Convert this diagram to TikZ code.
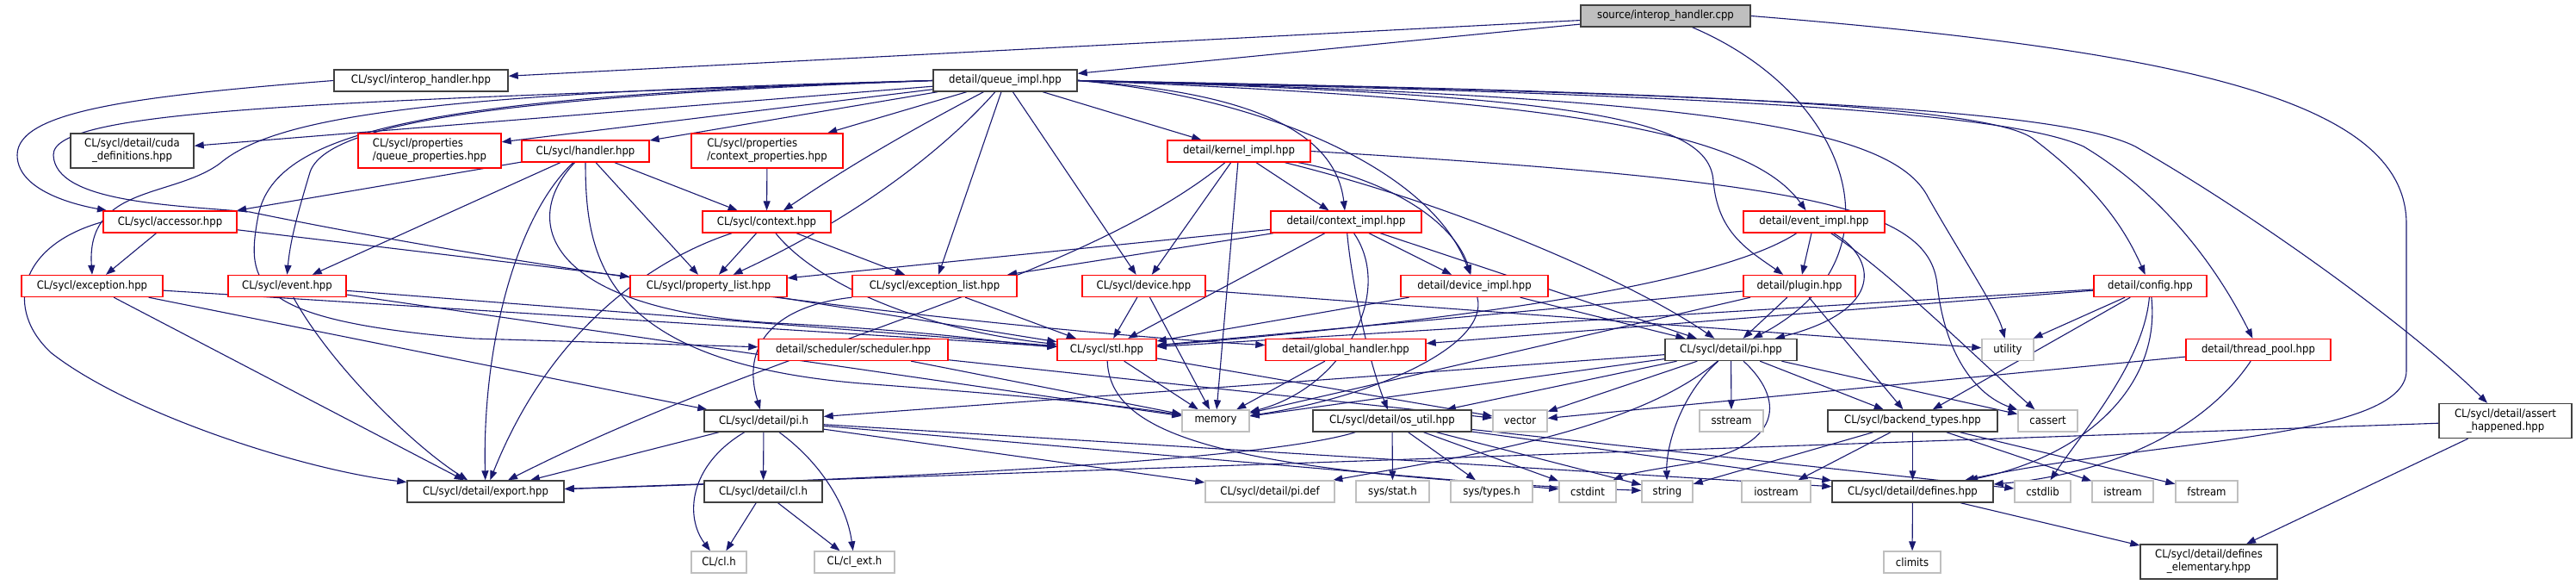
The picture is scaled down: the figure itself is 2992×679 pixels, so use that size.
\documentclass[tikz,border=0pt]{standalone}
\usepackage{fontspec}
\setmainfont{DejaVu Sans Condensed}
\usetikzlibrary{arrows.meta,backgrounds}
\definecolor{edgec}{HTML}{191970}
\definecolor{redb}{HTML}{FF0000}
\definecolor{blkb}{HTML}{404040}
\definecolor{grayb}{HTML}{BFBFBF}
\begin{document}
\begin{tikzpicture}[x=1pt,y=-1pt,
  box/.style={draw, fill=white, line width=1.4pt, minimum height=25pt, inner sep=2pt, font=\fontsize{13}{15}\selectfont},
  rb/.style={box, draw=redb},
  kb/.style={box, draw=blkb},
  gb/.style={box, draw=grayb},
  two/.style={minimum height=40pt, align=center},
  twol/.style={minimum height=40pt, align=left},
  e/.style={draw=edgec, line width=1.1pt, -{Triangle[length=11pt,width=8pt]}},
]
\useasboundingbox (0,0) rectangle (2992,679);
% row 0
\node[kb, fill=grayb!100, minimum width=197pt] (src) at (1934.5,18.5) {source/interop\_handler.cpp};
% row 1
\node[kb, minimum width=202pt] (ih) at (489,93.5) {CL/sycl/interop\_handler.hpp};
\node[kb, minimum width=167pt] (qi) at (1167.5,93.5) {detail/queue\_impl.hpp};
% row 2
\node[kb, two, minimum width=143pt] (cuda) at (153.5,175) {CL/sycl/detail/cuda\\\_definitions.hpp};
\node[rb, twol, minimum width=166pt] (qprop) at (499,175) {CL/sycl/properties\\/queue\_properties.hpp};
\node[rb, minimum width=148pt] (handler) at (680,175.5) {CL/sycl/handler.hpp};
\node[rb, twol, minimum width=176pt] (cprop) at (891,175) {CL/sycl/properties\\/context\_properties.hpp};
\node[rb, minimum width=166pt] (kimpl) at (1439,175.5) {detail/kernel\_impl.hpp};
% row 3
\node[rb, minimum width=155pt] (accessor) at (197.5,257.5) {CL/sycl/accessor.hpp};
\node[rb, minimum width=149pt] (context) at (890.5,257.5) {CL/sycl/context.hpp};
\node[rb, minimum width=175pt] (cimpl) at (1563.5,257.5) {detail/context\_impl.hpp};
\node[rb, minimum width=164pt] (eimpl) at (2107,257.5) {detail/event\_impl.hpp};
% row 4
\node[rb, minimum width=164pt] (exception) at (107,332) {CL/sycl/exception.hpp};
\node[rb, minimum width=137pt] (event) at (333.5,332) {CL/sycl/event.hpp};
\node[rb, minimum width=182pt] (plist) at (823,332) {CL/sycl/property\_list.hpp};
\node[rb, minimum width=191pt] (elist) at (1085.5,332) {CL/sycl/exception\_list.hpp};
\node[rb, minimum width=143pt] (device) at (1328.5,332) {CL/sycl/device.hpp};
\node[rb, minimum width=171pt] (dimpl) at (1712.5,332) {detail/device\_impl.hpp};
\node[rb, minimum width=130pt] (plugin) at (2090,332) {detail/plugin.hpp};
\node[rb, minimum width=131pt] (config) at (2497.5,332) {detail/config.hpp};
% row 5
\node[rb, minimum width=220pt] (sched) at (991,406) {detail/scheduler/scheduler.hpp};
\node[rb, minimum width=115pt] (stl) at (1285.5,406) {CL/sycl/stl.hpp};
\node[rb, minimum width=186pt] (ghandler) at (1563,406) {detail/global\_handler.hpp};
\node[kb, minimum width=153pt] (pihpp) at (2010.5,406) {CL/sycl/detail/pi.hpp};
\node[gb, minimum width=60pt] (utility) at (2332,406) {utility};
\node[rb, minimum width=168pt] (tpool) at (2623,406) {detail/thread\_pool.hpp};
% row 6
\node[kb, minimum width=138pt] (pih) at (887,488.5) {CL/sycl/detail/pi.h};
\node[gb, minimum width=78pt] (memory) at (1412,488.5) {memory};
\node[kb, minimum width=184pt] (osutil) at (1617,488.5) {CL/sycl/detail/os\_util.hpp};
\node[gb, minimum width=63pt] (vector) at (1765.5,488.5) {vector};
\node[gb, minimum width=74pt] (sstream) at (2011,488.5) {sstream};
\node[kb, minimum width=197pt] (btypes) at (2221.5,488.5) {CL/sycl/backend\_types.hpp};
\node[gb, minimum width=69pt] (cassert) at (2378.5,488.5) {cassert};
\node[kb, two, minimum width=154pt] (assert) at (2910,488.5) {CL/sycl/detail/assert\\\_happened.hpp};
% row 7
\node[kb, minimum width=182pt] (export) at (564,570.5) {CL/sycl/detail/export.hpp};
\node[kb, minimum width=137pt] (clh) at (886.5,570.5) {CL/sycl/detail/cl.h};
\node[gb, minimum width=150pt] (pidef) at (1475,570.5) {CL/sycl/detail/pi.def};
\node[gb, minimum width=85pt] (stat) at (1617.5,570.5) {sys/stat.h};
\node[gb, minimum width=95pt] (types) at (1732.5,570.5) {sys/types.h};
\node[gb, minimum width=66pt] (cstdint) at (1844,570.5) {cstdint};
\node[gb, minimum width=59pt] (string) at (1936.5,570.5) {string};
\node[gb, minimum width=80pt] (iostream) at (2063,570.5) {iostream};
\node[kb, minimum width=187pt] (defines) at (2221.5,570.5) {CL/sycl/detail/defines.hpp};
\node[gb, minimum width=65pt] (cstdlib) at (2372.5,570.5) {cstdlib};
\node[gb, minimum width=71pt] (istream) at (2465.5,570.5) {istream};
\node[gb, minimum width=72pt] (fstream) at (2563,570.5) {fstream};
% row 8
\node[gb, minimum width=64pt] (clcl) at (835,652.5) {CL/cl.h};
\node[gb, minimum width=93pt] (clext) at (992.5,652.5) {CL/cl\_ext.h};
\node[gb, minimum width=66pt] (climits) at (2221,652.5) {climits};
\node[kb, two, minimum width=159pt] (delem) at (2565.5,652) {CL/sycl/detail/defines\\\_elementary.hpp};

\begin{scope}[on background layer]
% source
\draw[e] (src) -- (ih);
\draw[e] (src) -- (qi);
\draw[e] (src) .. controls (2150,110) and (2215,300) .. (pihpp);
\draw[e] (src.east) .. controls (2550,60) and (2795,120) .. (2795,260) -- (2795,430) .. controls (2795,510) and (2500,510) .. (defines);
% interop_handler
\draw[e] (ih.west) .. controls (150,112) and (20,130) .. (20,180) .. controls (20,225) and (100,240) .. (accessor);
% queue_impl left
\draw[e] (qi) -- (cuda);
\draw[e] (qi) -- (qprop);
\draw[e] (qi) -- (handler);
\draw[e] (qi) -- (cprop);
\draw[e] (qi) .. controls (1060,150) and (990,190) .. (context);
\draw[e] (qi) .. controls (1100,170) and (1000,250) .. (plist);
\draw[e] (qi) -- (elist);
\draw[e] (qi) -- (device);
\draw[e] (qi) -- (kimpl);
\draw[e] (qi.west) .. controls (500,108) and (320,135) .. (255,190) .. controls (200,230) and (100,215) .. (exception.north);
\draw[e] (qi.west) .. controls (600,112) and (380,140) .. (360,200) .. controls (345,250) and (337,280) .. (event.north);
\draw[e] (qi.west) .. controls (500,112) and (320,150) .. (300,250) .. controls (285,330) and (290,372) .. (550,393) -- (sched);
\draw[e] (qi.west) .. controls (400,118) and (60,125) .. (62,180) .. controls (64,235) and (200,238) .. (290,246) .. controls (700,330) and (1200,385) .. (ghandler);
% queue_impl right
\draw[e] (qi.east) .. controls (1420,105) and (1550,140) .. (cimpl);
\draw[e] (qi.east) .. controls (1450,110) and (1660,190) .. (dimpl);
\draw[e] (qi.east) .. controls (1800,115) and (2030,150) .. (eimpl);
\draw[e] (qi.east) .. controls (1850,110) and (1985,140) .. (1990,210) .. controls (1995,270) and (2030,290) .. (plugin);
\draw[e] (qi.east) .. controls (1900,105) and (2300,120) .. (2360,160) .. controls (2440,220) and (2470,270) .. (config);
\draw[e] (qi.east) .. controls (2000,110) and (2330,130) .. (2420,170) .. controls (2520,230) and (2580,320) .. (tpool);
\draw[e] (qi.east) .. controls (2100,110) and (2400,130) .. (2480,170) .. controls (2620,250) and (2800,380) .. (assert);
\draw[e] (qi.east) .. controls (2000,112) and (2200,150) .. (2240,230) .. controls (2280,300) and (2320,360) .. (utility);
% handler
\draw[e] (handler) -- (accessor);
\draw[e] (handler) -- (event);
\draw[e] (handler) -- (context);
\draw[e] (handler) -- (plist);
\draw[e] (handler) .. controls (600,250) and (560,400) .. (export);
\draw[e] (handler) .. controls (600,260) and (640,360) .. (900,375) .. controls (1100,385) and (1180,400) .. (stl);
\draw[e] (handler) .. controls (680,300) and (700,420) .. (1000,445) .. controls (1200,460) and (1300,470) .. (memory);
% accessor
\draw[e] (accessor) -- (exception);
\draw[e] (accessor) -- (plist);
\draw[e] (accessor.west) .. controls (20,285) and (5,360) .. (60,410) .. controls (150,480) and (350,545) .. (export);
% context props / context
\draw[e] (cprop) -- (context);
\draw[e] (context) -- (plist);
\draw[e] (context) -- (elist);
\draw[e] (context) .. controls (940,320) and (1050,380) .. (stl);
\draw[e] (context) .. controls (760,300) and (640,380) .. (export);
% exception / event
\draw[e] (exception) -- (export);
\draw[e] (exception) -- (pih);
\draw[e] (exception) -- (stl);
\draw[e] (event) .. controls (383,422) and (478,516) .. (export);
\draw[e] (event) -- (stl);
\draw[e] (event) -- (memory);
% property list / exception list / device
\draw[e] (plist) -- (stl);
\draw[e] (elist) -- (stl);
\draw[e] (elist.south west) .. controls (900,355) and (860,400) .. (pih);
\draw[e] (device) -- (stl);
\draw[e] (device) -- (memory);
\draw[e] (device) -- (utility);
% kernel_impl
\draw[e] (kimpl) -- (cimpl);
\draw[e] (kimpl) .. controls (1620,210) and (1690,260) .. (dimpl);
\draw[e] (kimpl) -- (device);
\draw[e] (kimpl) -- (memory);
\draw[e] (kimpl) .. controls (1250,330) and (900,400) .. (export);
\draw[e] (kimpl) .. controls (1700,240) and (1900,330) .. (pihpp);
\draw[e] (kimpl.east) .. controls (2100,210) and (2240,240) .. (2250,330) .. controls (2260,420) and (2300,460) .. (cassert);
% context_impl
\draw[e] (cimpl) -- (plist);
\draw[e] (cimpl) -- (elist);
\draw[e] (cimpl) -- (stl);
\draw[e] (cimpl) -- (dimpl);
\draw[e] (cimpl) -- (pihpp);
\draw[e] (cimpl) .. controls (1570,330) and (1590,420) .. (osutil);
\draw[e] (cimpl) .. controls (1620,340) and (1560,450) .. (memory);
% device_impl
\draw[e] (dimpl) -- (stl);
\draw[e] (dimpl) -- (pihpp);
\draw[e] (dimpl) .. controls (1730,400) and (1600,460) .. (memory);
% event_impl
\draw[e] (eimpl) -- (plugin);
\draw[e] (eimpl) .. controls (1980,340) and (1600,380) .. (stl);
\draw[e] (eimpl) .. controls (2180,300) and (2190,360) .. (pihpp);
\draw[e] (eimpl) .. controls (2200,320) and (2300,420) .. (cassert);
% plugin
\draw[e] (plugin) -- (pihpp);
\draw[e] (plugin) -- (btypes);
\draw[e] (plugin) -- (stl);
\draw[e] (plugin) -- (memory);
% config
\draw[e] (config) -- (stl);
\draw[e] (config) -- (ghandler);
\draw[e] (config) -- (utility);
\draw[e] (config) -- (btypes);
\draw[e] (config) .. controls (2510,450) and (2420,530) .. (defines);
\draw[e] (config) .. controls (2490,420) and (2420,500) .. (cstdlib);
% thread pool
\draw[e] (tpool) -- (vector);
\draw[e] (tpool) .. controls (2560,500) and (2450,550) .. (defines);
% scheduler / stl / global handler
\draw[e] (sched) -- (memory);
\draw[e] (sched) -- (vector);
\draw[e] (stl) -- (memory);
\draw[e] (stl) -- (vector);
\draw[e] (stl) .. controls (1290,500) and (1400,550) .. (string);
\draw[e] (ghandler) -- (memory);
% pi.hpp
\draw[e] (pihpp) -- (vector);
\draw[e] (pihpp) -- (sstream);
\draw[e] (pihpp) -- (btypes);
\draw[e] (pihpp) -- (cassert);
\draw[e] (pihpp) -- (pih);
\draw[e] (pihpp) -- (memory);
\draw[e] (pihpp) -- (osutil);
\draw[e] (pihpp) .. controls (1950,460) and (1935,520) .. (string);
\draw[e] (pihpp) .. controls (2070,460) and (2080,520) .. (1950,540) .. controls (1920,545) and (1890,550) .. (cstdint);
\draw[e] (pihpp) .. controls (1900,500) and (1700,530) .. (pidef);
% pi.h
\draw[e] (pih) -- (export);
\draw[e] (pih) .. controls (800,540) and (795,600) .. (clcl);
\draw[e] (pih) -- (clh);
\draw[e] (pih) .. controls (956,539) and (984,589) .. (clext);
\draw[e] (pih) -- (pidef);
\draw[e] (pih) -- (defines);
\draw[e] (pih) -- (cstdint);
\draw[e] (clh) -- (clcl);
\draw[e] (clh) -- (clext);
% os_util
\draw[e] (osutil) .. controls (1450,540) and (900,560) .. (export);
\draw[e] (osutil) -- (stat);
\draw[e] (osutil) -- (types);
\draw[e] (osutil) -- (cstdint);
\draw[e] (osutil) -- (string);
\draw[e] (osutil) -- (defines);
\draw[e] (osutil) -- (cstdlib);
% backend types
\draw[e] (btypes) -- (defines);
\draw[e] (btypes) -- (iostream);
\draw[e] (btypes) -- (istream);
\draw[e] (btypes) -- (fstream);
\draw[e] (btypes) -- (string);
% defines / assert
\draw[e] (defines) -- (climits);
\draw[e] (defines) -- (delem);
\draw[e] (assert) -- (delem);
\draw[e] (assert) -- (export);
\end{scope}
\end{tikzpicture}
\end{document}
